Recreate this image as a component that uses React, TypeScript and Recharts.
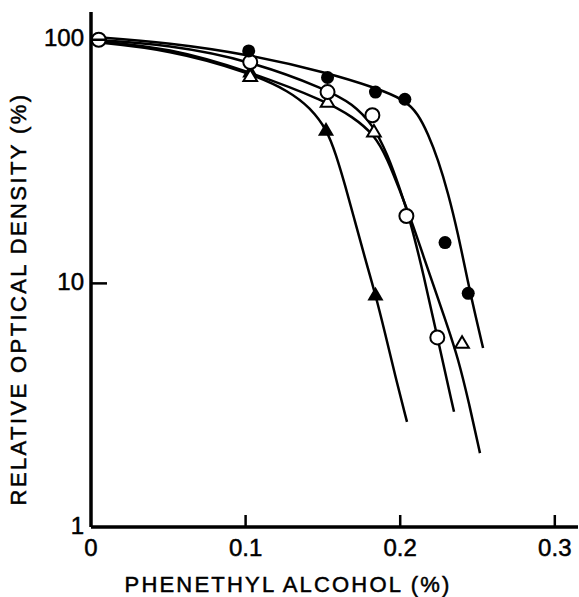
import React from 'react';
import { ComposedChart, Line, Scatter, XAxis, YAxis } from 'recharts';

const X_TICKS = [0, 0.1, 0.2, 0.3];
const Y_TICKS = [1, 10, 100];

const filledCircleX = [0.102, 0.153, 0.184, 0.203, 0.229, 0.244];
const filledCircleY = [90, 70, 61, 57, 14.7, 9.1];
const openCircleX = [0.005, 0.103, 0.153, 0.182, 0.204, 0.224];
const openCircleY = [100, 81, 61, 49, 18.9, 6.0];
const openTriX = [0.103, 0.153, 0.183, 0.24];
const openTriY = [71, 55.6, 42, 5.7];
const filledTriX = [0.103, 0.152, 0.184];
const filledTriY = [74, 42.7, 9.0];

// hand-drawn fitted curves, traced along their length
const filledCircleCurveX = [0, 0.051, 0.103, 0.153, 0.184, 0.203, 0.2115, 0.218, 0.2245, 0.231, 0.2374, 0.2439, 0.249, 0.2536];
const filledCircleCurveY = [102.9, 97.2, 86.8, 73.2, 63.5, 56.7, 49.7, 41.1, 32.2, 23.5, 16.0, 10.05, 7.22, 5.43];
const openCircleCurveX = [0, 0.051, 0.103, 0.153, 0.169, 0.182, 0.192, 0.2, 0.206, 0.2154, 0.2238, 0.2348];
const openCircleCurveY = [100, 95.4, 82, 62.3, 54.6, 45.2, 33.7, 24.2, 18.6, 10.7, 6.09, 2.97];
const openTriCurveX = [0, 0.051, 0.103, 0.153, 0.169, 0.183, 0.192, 0.2, 0.2076, 0.2154, 0.2232, 0.2303, 0.2374, 0.2445, 0.2516];
const openTriCurveY = [99.1, 92.7, 73.9, 55.6, 48.3, 41.1, 32.2, 23.8, 17.9, 12.7, 9.14, 6.75, 4.94, 3.23, 2.01];
const filledTriCurveX = [0, 0.051, 0.103, 0.1287, 0.1417, 0.1527, 0.1585, 0.1643, 0.1708, 0.1772, 0.1837, 0.1902, 0.1966, 0.2044];
const filledTriCurveY = [98.1, 91, 73.2, 61.2, 52.6, 42.7, 33.7, 25.4, 17.9, 12.7, 9.14, 6.26, 4.21, 2.7];

const zip = (xs: number[], ys: number[]) => xs.map((x, i) => ({ x, y: ys[i] }));

const FONT = '"Liberation Sans", Arial, sans-serif';
const INK = '#000';

const FilledCircle = (p: any) => <circle cx={p.cx} cy={p.cy} r={6.5} fill={INK} />;
const OpenCircle = (p: any) => (
  <circle cx={p.cx} cy={p.cy} r={7} fill="#fff" stroke={INK} strokeWidth={2} />
);
const triPoints = (cx: number, cy: number, h: number) =>
  `${cx},${cy - h * 0.6} ${cx - h * 0.62},${cy + h * 0.45} ${cx + h * 0.62},${cy + h * 0.45}`;
const FilledTri = (p: any) => <polygon points={triPoints(p.cx, p.cy, 13)} fill={INK} />;
const OpenTri = (p: any) => (
  <polygon points={triPoints(p.cx, p.cy, 11)} fill="#fff" stroke={INK} strokeWidth={2} />
);

const textStyle = { fontFamily: FONT, fill: INK, stroke: INK, strokeWidth: 0.5 };

const XTick = ({ x, y, payload }: any) => (
  <g>
    {payload.value !== 0 && <line x1={x} x2={x} y1={y} y2={y - 12} stroke={INK} strokeWidth={2.5} />}
    <text x={x} y={y + 20} textAnchor="middle" dominantBaseline="central" fontSize={24} style={textStyle}>
      {String(payload.value)}
    </text>
  </g>
);

const YTick = ({ x, y, payload }: any) => (
  <g>
    {payload.value !== 1 && <line x1={x} x2={x + 16} y1={y} y2={y} stroke={INK} strokeWidth={2.5} />}
    <text x={x - 7} y={y - 2} textAnchor="end" dominantBaseline="central" fontSize={24} style={textStyle}>
      {String(payload.value)}
    </text>
  </g>
);

const XTitle = ({ viewBox }: any) => (
  <text
    x={viewBox.x + 197}
    y={viewBox.y + 57}
    textAnchor="middle"
    dominantBaseline="central"
    fontSize={22}
    letterSpacing={2.2}
    style={textStyle}
  >
    PHENETHYL ALCOHOL (%)
  </text>
);

const YTitle = ({ viewBox }: any) => {
  const cx = viewBox.x + 18;
  const cy = viewBox.y + 287;
  return (
    <text
      x={cx}
      y={cy}
      transform={`rotate(-90 ${cx} ${cy})`}
      textAnchor="middle"
      dominantBaseline="central"
      fontSize={22}
      letterSpacing={2.4}
      style={textStyle}
    >
      RELATIVE OPTICAL DENSITY (%)
    </text>
  );
};

const curves = [
  zip(filledCircleCurveX, filledCircleCurveY),
  zip(openCircleCurveX, openCircleCurveY),
  zip(openTriCurveX, openTriCurveY),
  zip(filledTriCurveX, filledTriCurveY),
];

export default function App() {
  return (
    <div style={{ position: 'absolute', left: 0, top: 0, width: 579, height: 597, background: '#fff' }}>
      <ComposedChart width={579} height={597} margin={{ top: 12, right: 1, bottom: 0, left: 0 }}>
        <XAxis
          type="number"
          dataKey="x"
          domain={[0, 0.315]}
          ticks={X_TICKS}
          interval={0}
          height={70}
          tickSize={0}
          tickMargin={0}
          tickLine={false}
          tick={<XTick />}
          axisLine={{ stroke: INK, strokeWidth: 3.5 }}
          allowDataOverflow
          label={{ content: XTitle }}
        />
        <YAxis
          type="number"
          dataKey="y"
          scale="log"
          domain={[1, 130]}
          ticks={Y_TICKS}
          interval={0}
          width={91}
          tickSize={0}
          tickMargin={0}
          tickLine={false}
          tick={<YTick />}
          axisLine={{ stroke: INK, strokeWidth: 3.5 }}
          allowDataOverflow
          label={{ content: YTitle }}
        />
        {curves.map((d, i) => (
          <Line
            key={i}
            data={d}
            dataKey="y"
            type="basis"
            stroke={INK}
            strokeWidth={2.5}
            dot={false}
            activeDot={false}
            isAnimationActive={false}
          />
        ))}
        <Scatter data={zip(filledTriX, filledTriY)} dataKey="y" shape={FilledTri} isAnimationActive={false} />
        <Scatter data={zip(openTriX, openTriY)} dataKey="y" shape={OpenTri} isAnimationActive={false} />
        <Scatter data={zip(openCircleX, openCircleY)} dataKey="y" shape={OpenCircle} isAnimationActive={false} />
        <Scatter data={zip(filledCircleX, filledCircleY)} dataKey="y" shape={FilledCircle} isAnimationActive={false} />
      </ComposedChart>
    </div>
  );
}
